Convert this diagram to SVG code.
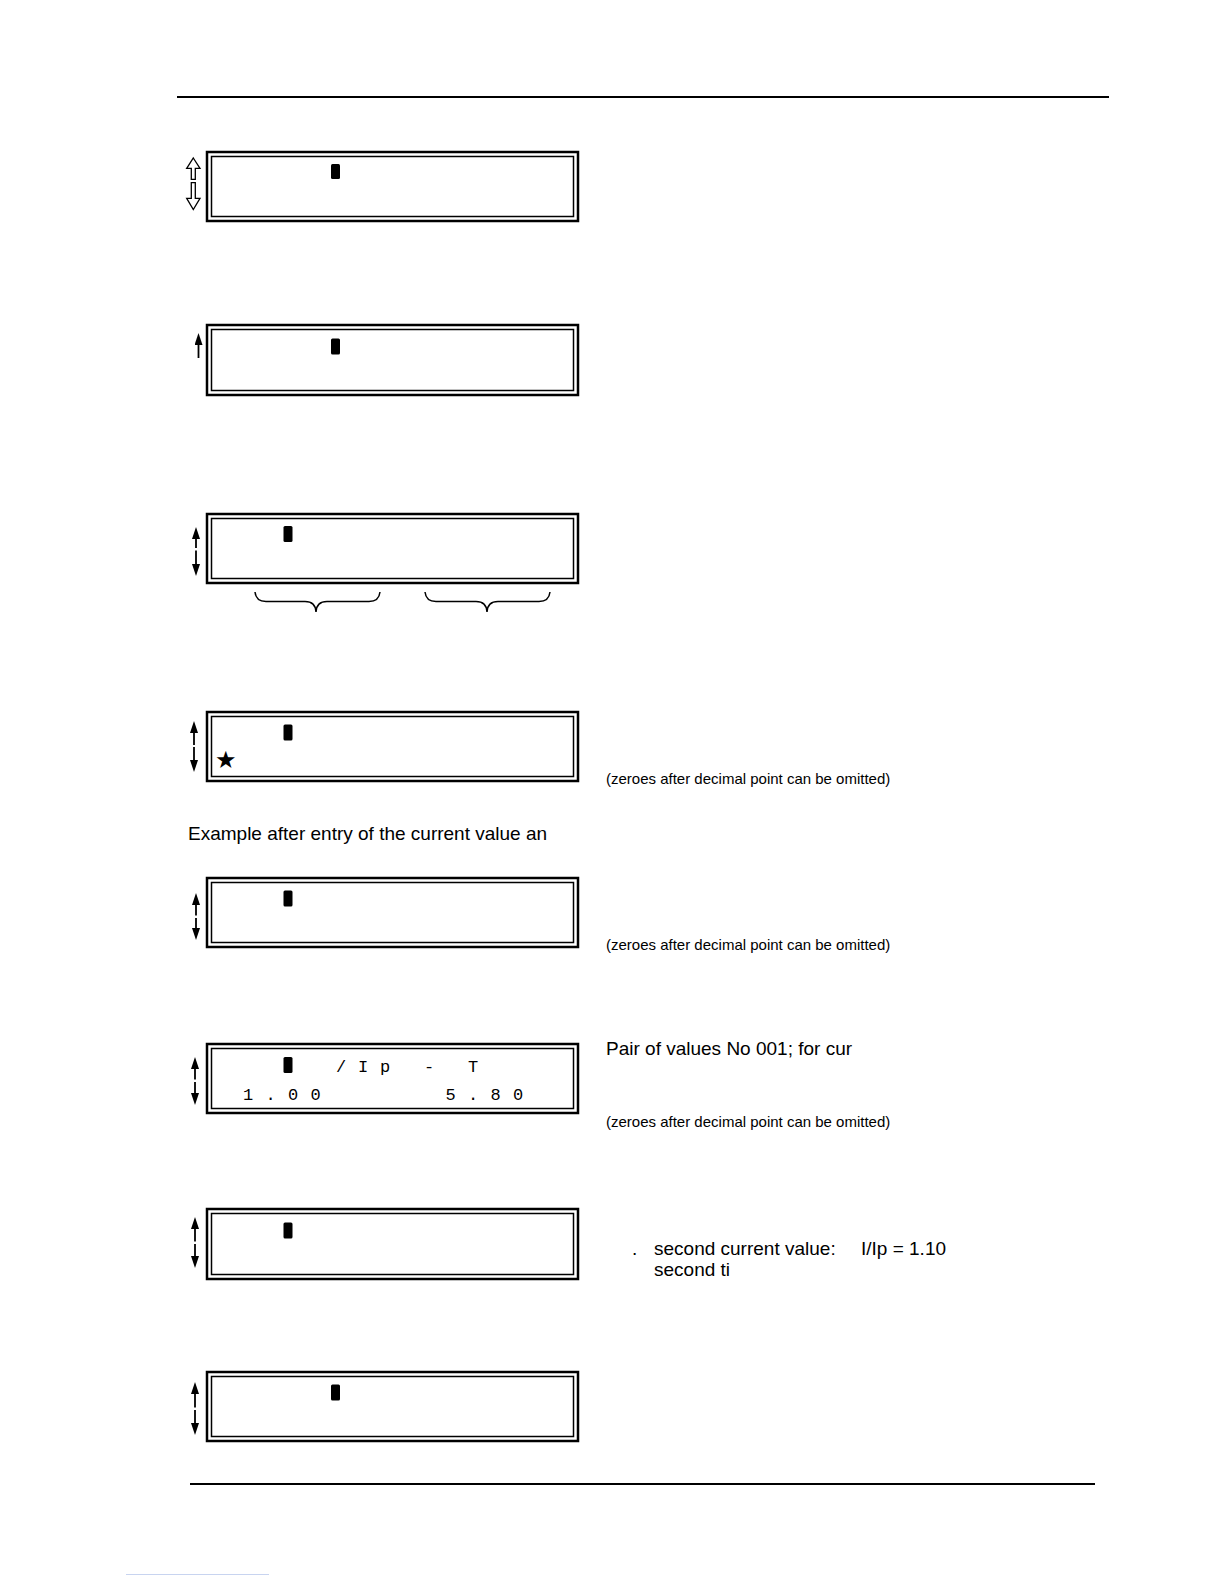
<svg xmlns="http://www.w3.org/2000/svg" width="1224" height="1584" viewBox="0 0 1224 1584">
<style>
.outer{fill:#fff;stroke:#000;stroke-width:2.5}
.inner{fill:none;stroke:#000;stroke-width:1.5}
.cur{fill:#000}
.txt{font-family:"Liberation Sans",Arial,sans-serif;font-size:19px;fill:#000}
.sm{font-family:"Liberation Sans",Arial,sans-serif;font-size:15px;fill:#000}
.lcd{font-family:"Liberation Mono","Courier New",monospace;font-size:17px;fill:#000}
.shaft{stroke:#000;stroke-width:1.8;fill:none}
.hollow{fill:#fff;stroke:#000;stroke-width:1.3}
.brace{fill:none;stroke:#000;stroke-width:1.5}
.rule{stroke:#000;stroke-width:2.2}
</style>
<defs>
<marker id="ah" markerUnits="userSpaceOnUse" markerWidth="12" markerHeight="8" viewBox="0 0 12 8" refX="6" refY="4" orient="auto">
<path d="M0,0 L12,4 L0,8 Z" fill="#000"/>
</marker>
</defs>
<rect width="1224" height="1584" fill="#fff"/>
<line class="rule" x1="177" y1="97" x2="1109" y2="97"/>
<line class="rule" x1="190" y1="1484" x2="1095" y2="1484"/>
<line x1="126" y1="1574.5" x2="269" y2="1574.5" stroke="#c8d4f0" stroke-width="1"/>

<g id="lcd1">
<rect class="outer" x="207" y="152" width="371" height="69"/>
<rect class="inner" x="211.5" y="156.5" width="362" height="60"/>
<rect class="cur" x="331" y="164" width="9" height="15" rx="1.5"/>
</g>
<g id="lcd2">
<rect class="outer" x="207" y="325" width="371" height="70"/>
<rect class="inner" x="211.5" y="329.5" width="362" height="61"/>
<rect class="cur" x="331" y="338.5" width="9" height="16" rx="1.5"/>
</g>
<g id="lcd3">
<rect class="outer" x="207" y="514" width="371" height="69"/>
<rect class="inner" x="211.5" y="518.5" width="362" height="60"/>
<rect class="cur" x="283.5" y="526" width="9" height="16" rx="1.5"/>
<path class="brace" d="M255,592 Q256,601.5 266,601.5 L305,601.5 Q315.5,601.5 316,612 Q316.5,601.5 327,601.5 L369,601.5 Q379,601.5 380,592"/>
<path class="brace" d="M425,592 Q426,601.5 436,601.5 L476,601.5 Q486.5,601.5 487,612 Q487.5,601.5 498,601.5 L539,601.5 Q549,601.5 550,592"/>
</g>
<g id="lcd4">
<rect class="outer" x="207" y="712" width="371" height="69"/>
<rect class="inner" x="211.5" y="716.5" width="362" height="60"/>
<rect class="cur" x="283.5" y="724.5" width="9" height="16" rx="1.5"/>
<text x="215" y="768" font-family="DejaVu Sans,sans-serif" font-size="24">★</text>
<text class="sm" x="606" y="784">(zeroes after decimal point can be omitted)</text>
</g>
<text id="caption1" class="txt" x="188" y="840">Example after entry of the current value an</text>
<g id="lcd5">
<rect class="outer" x="207" y="878" width="371" height="69"/>
<rect class="inner" x="211.5" y="882.5" width="362" height="60"/>
<rect class="cur" x="283.5" y="890.5" width="9" height="16" rx="1.5"/>
<text class="sm" x="606" y="950">(zeroes after decimal point can be omitted)</text>
</g>
<g id="lcd6">
<rect class="outer" x="207" y="1044" width="371" height="69"/>
<rect class="inner" x="211.5" y="1048.5" width="362" height="60"/>
<rect class="cur" x="283.5" y="1057" width="9" height="16" rx="1.5"/>
<text class="lcd" x="336" y="1072" letter-spacing="11.8">/Ip - T</text>
<text class="lcd" x="243" y="1100" letter-spacing="12.3" xml:space="preserve">1.00     5.80</text>
<text class="txt" x="606" y="1055">Pair of values No 001; for cur</text>
<text class="sm" x="606" y="1127">(zeroes after decimal point can be omitted)</text>
</g>
<g id="lcd7">
<rect class="outer" x="207" y="1209" width="371" height="70"/>
<rect class="inner" x="211.5" y="1213.5" width="362" height="61"/>
<rect class="cur" x="283.5" y="1222.5" width="9" height="16" rx="1.5"/>
<text class="txt" x="632" y="1255">.</text>
<text class="txt" x="654" y="1255">second current value:</text>
<text class="txt" x="861" y="1255">I/Ip = 1.10</text>
<text class="txt" x="654" y="1276">second ti</text>
</g>
<g id="lcd8">
<rect class="outer" x="207" y="1372" width="371" height="69"/>
<rect class="inner" x="211.5" y="1376.5" width="362" height="60"/>
<rect class="cur" x="331" y="1384.5" width="9" height="16" rx="1.5"/>
</g>

<g id="connectors">
<path class="hollow" d="M193.3,158 L200,168.3 L195.3,168.3 L195.3,179.3 L191.3,179.3 L191.3,168.3 L186.7,168.3 Z"/>
<path class="hollow" d="M191.3,182.7 L195.3,182.7 L195.3,198.3 L200,198.3 L193.3,209.5 L186.7,198.3 L191.3,198.3 Z"/>
<line class="shaft" x1="198.5" y1="358" x2="198.5" y2="339" marker-end="url(#ah)"/>
<line class="shaft" x1="196" y1="548" x2="196" y2="533" marker-end="url(#ah)"/>
<line class="shaft" x1="196" y1="550.5" x2="196" y2="570" marker-end="url(#ah)"/>
<line class="shaft" x1="194" y1="745" x2="194" y2="727" marker-end="url(#ah)"/>
<line class="shaft" x1="194" y1="747" x2="194" y2="766" marker-end="url(#ah)"/>
<line class="shaft" x1="196" y1="915.5" x2="196" y2="899" marker-end="url(#ah)"/>
<line class="shaft" x1="196" y1="918" x2="196" y2="934" marker-end="url(#ah)"/>
<line class="shaft" x1="195" y1="1079.5" x2="195" y2="1063" marker-end="url(#ah)"/>
<line class="shaft" x1="195" y1="1082" x2="195" y2="1099" marker-end="url(#ah)"/>
<line class="shaft" x1="195" y1="1241.5" x2="195" y2="1223" marker-end="url(#ah)"/>
<line class="shaft" x1="195" y1="1244" x2="195" y2="1262" marker-end="url(#ah)"/>
<line class="shaft" x1="195" y1="1407.5" x2="195" y2="1388" marker-end="url(#ah)"/>
<line class="shaft" x1="195" y1="1410" x2="195" y2="1429" marker-end="url(#ah)"/>
</g>
</svg>
